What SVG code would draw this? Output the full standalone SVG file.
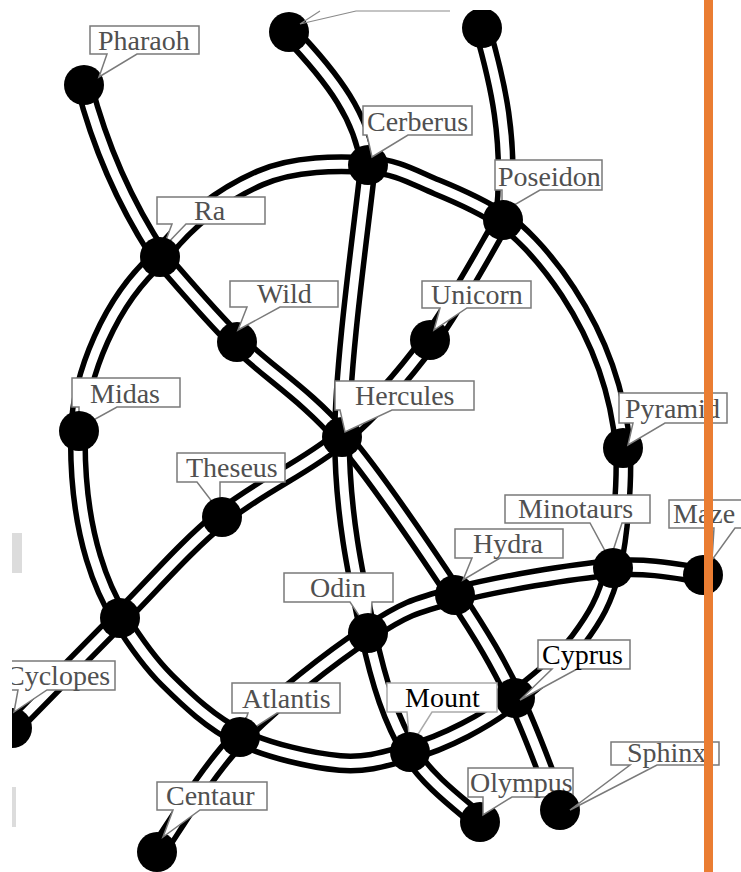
<svg xmlns="http://www.w3.org/2000/svg" xmlns:xlink="http://www.w3.org/1999/xlink" width="741" height="872" viewBox="0 0 741 872">
<style>
.tb{fill:none;stroke:#000;stroke-width:20;stroke-linecap:butt;stroke-linejoin:round}
.tw{fill:none;stroke:#fff;stroke-width:9;stroke-linecap:butt;stroke-linejoin:round}
.nd{fill:#000}
.lb{fill:#fff;stroke:#7a7a7a;stroke-width:1.5;stroke-linejoin:miter}
.lt{font-family:"Liberation Serif","Times New Roman",serif;font-size:28px;fill:#505050}
.dk{fill:#000}
</style>
<defs>
<clipPath id="clip"><rect x="12" y="10" width="729" height="862"/></clipPath>
<path id="e-ring" d="M368,165 C397.5,166.5 414.5,177.8 437,187 C459.5,196.2 480,205 503,220 C527,235 612,320 623,448 C624.7,482.7 620.5,536 613,568 C605.5,600 594.3,618.3 578,640 C561.7,661.7 533.8,683 515,698 C496.2,713 482.5,721 465,730 C447.5,739 430.8,746.5 410,752 C389.2,757.5 368.3,765.5 340,763 C311.7,760.5 268.8,750.8 240,737 C211.2,723.2 187,699.8 167,680 C147,660.2 132.8,638.5 120,618 C107,597 76,540 78,432 C80,375 110,300 160,257 C190,217 225.3,193.3 260,178 C294.7,162.7 338.5,163.5 368,165 Z"/>
<path id="e-pharaoh" d="M84,85 Q108,178 160,257"/>
<path id="e-ra-sphinx" d="M160,257 C172.8,271.2 206.7,312 237,342 C267.3,372 305.7,394.8 342,437 C378.3,479.2 426.2,551.5 455,595 C483.8,638.5 497.5,662.2 515,698 C532.5,733.8 552.5,791.3 560,810"/>
<path id="e-top1" d="M289,32 C335,80 362,118 368,165"/>
<path id="e-cerb-olympus" d="M368,165 C363.7,210.3 342,359 342,437 C342,515 356.7,580.5 368,633 C379.3,685.5 391.3,720.5 410,752 C428.7,783.5 468.3,810.3 480,822"/>
<path id="e-top2" d="M482,28 C497,80 512,140 503,220"/>
<path id="e-pos-cyc" d="M503,220 C490.8,240 456.8,303.8 430,340 C403.2,376.2 376.7,407.5 342,437 C307.3,466.5 259,486.8 222,517 C185,547.2 155,582.8 120,618 C85,653.2 30,709.7 5,735"/>
<path id="e-cent-maze" d="M157,852 C170.8,832.8 204.8,773.5 240,737 C275.2,700.5 332.2,656.7 368,633 C403.8,609.3 414.2,605.8 455,595 C495.8,584.2 571.7,571.3 613,568 C654.3,564.7 688,573.8 703,575"/>
</defs>
<rect x="0" y="0" width="741" height="872" fill="#fff"/>
<g clip-path="url(#clip)">
<g id="connectors">
<g id="edge-ring"><use xlink:href="#e-ring" class="tb"/><use xlink:href="#e-ring" class="tw"/></g>
<g id="edge-pharaoh-ra"><use xlink:href="#e-pharaoh" class="tb"/><use xlink:href="#e-pharaoh" class="tw"/></g>
<g id="edge-ra-sphinx"><use xlink:href="#e-ra-sphinx" class="tb"/><use xlink:href="#e-ra-sphinx" class="tw"/></g>
<g id="edge-top1-cerberus"><use xlink:href="#e-top1" class="tb"/><use xlink:href="#e-top1" class="tw"/></g>
<g id="edge-cerberus-olympus"><use xlink:href="#e-cerb-olympus" class="tb"/><use xlink:href="#e-cerb-olympus" class="tw"/></g>
<g id="edge-top2-poseidon"><use xlink:href="#e-top2" class="tb"/><use xlink:href="#e-top2" class="tw"/></g>
<g id="edge-poseidon-cyclopes"><use xlink:href="#e-pos-cyc" class="tb"/><use xlink:href="#e-pos-cyc" class="tw"/></g>
<g id="edge-centaur-maze"><use xlink:href="#e-cent-maze" class="tb"/><use xlink:href="#e-cent-maze" class="tw"/></g>
</g>
<g id="node-top1"><circle class="nd" cx="289" cy="32" r="20"/><path d="M320,11 L300,24 L356,11 H450" fill="none" stroke="#8a8a8a" stroke-width="1.2"/></g>
<g id="node-top2"><circle class="nd" cx="482" cy="28" r="20"/></g>
<g id="node-pharaoh"><circle class="nd" cx="84" cy="85" r="20"/><path class="lb" d="M90,26 H199 V54 H137 L99,77 L107,54 H90 Z"/><text class="lt" x="98" y="50">Pharaoh</text></g>
<g id="node-cerberus"><circle class="nd" cx="368" cy="165" r="20"/><path class="lb" d="M363,106 H472 V135 H408 L372,157 L367,135 H363 Z"/><text class="lt" x="367" y="131">Cerberus</text></g>
<g id="node-ra"><path class="lb" d="M157,197 H265 V224 H186 L163,248 L172,224 H157 Z"/><text class="lt" x="194" y="220">Ra</text><circle class="nd" cx="160" cy="257" r="20"/></g>
<g id="node-poseidon"><path class="lb" d="M495,160 H602 V190 H540 L502,212 L502,190 H495 Z"/><text class="lt" x="498" y="186">Poseidon</text><circle class="nd" cx="503" cy="220" r="20"/></g>
<g id="node-wild"><circle class="nd" cx="237" cy="342" r="20"/><path class="lb" d="M230,281 H338 V307 H280 L238,330 L247,307 H230 Z"/><text class="lt" x="257" y="303">Wild</text></g>
<g id="node-unicorn"><circle class="nd" cx="430" cy="340" r="20"/><path class="lb" d="M422,281 H531 V308 H467 L434,330 L440,308 H422 Z"/><text class="lt" x="431" y="304">Unicorn</text></g>
<g id="node-midas"><path class="lb" d="M72,378 H180 V407 H117 L79,428 L79,407 H72 Z"/><text class="lt" x="90" y="403">Midas</text><circle class="nd" cx="79" cy="431" r="20"/></g>
<g id="node-hercules"><circle class="nd" cx="342" cy="437" r="20"/><path class="lb" d="M335,381 H474 V410 H392 L345,432 L340,410 H335 Z"/><text class="lt" x="355" y="405">Hercules</text></g>
<g id="node-pyramid"><circle class="nd" cx="623" cy="448" r="20"/><path class="lb" d="M619,393 H727 V423 H665 L628,445 L633,423 H619 Z"/><text class="lt" x="625" y="418">Pyramid</text></g>
<g id="node-theseus"><path class="lb" d="M177,453 H285 V482 H220 L220,512 L197,482 H177 Z"/><text class="lt" x="186" y="477">Theseus</text><circle class="nd" cx="222" cy="517" r="20"/></g>
<g id="node-minotaurs"><path class="lb" d="M505,495 H650 V523 H622 L610,560 L590,523 H505 Z"/><text class="lt" x="518" y="518">Minotaurs</text><circle class="nd" cx="613" cy="568" r="20"/></g>
<g id="node-maze"><circle class="nd" cx="703" cy="575" r="20"/><path class="lb" d="M669,500 H752 V528 H735 L712,560 L714,528 H669 Z"/><text class="lt" x="673" y="523">Maze</text></g>
<g id="node-hydra"><circle class="nd" cx="455" cy="595" r="20"/><path class="lb" d="M455,529 H563 V558 H500 L463,580 L472,558 H455 Z"/><text class="lt" x="473" y="553">Hydra</text></g>
<g id="node-junction"><circle class="nd" cx="120" cy="618" r="20"/></g>
<g id="node-odin"><path class="lb" d="M284,573 H393 V602 H372 L370,632 L350,602 H284 Z"/><text class="lt" x="310" y="597">Odin</text><circle class="nd" cx="368" cy="633" r="20"/></g>
<g id="node-cyclopes"><circle class="nd" cx="12" cy="728" r="20"/><path class="lb" d="M0,661 H115 V690 H47 L14,712 L18,690 H0 Z"/><text class="lt" x="6" y="685">Cyclopes</text></g>
<g id="node-cyprus"><circle class="nd" cx="515" cy="698" r="20"/><path class="lb" d="M538,640 H630 V669 H577 L520,700 L552,669 H538 Z"/><text class="lt dk" x="542" y="664">Cyprus</text></g>
<g id="node-atlantis"><path class="lb" d="M232,683 H340 V713 H277 L240,737 L248,713 H232 Z"/><text class="lt" x="242" y="708">Atlantis</text><circle class="nd" cx="240" cy="737" r="20"/></g>
<g id="node-mount"><path class="lb" d="M387,683 H497 V712 H432 L410,747 L407,712 H387 Z" style="stroke:#aaa"/><text class="lt dk" x="405" y="707">Mount</text><circle class="nd" cx="410" cy="752" r="20"/></g>
<g id="node-olympus"><circle class="nd" cx="480" cy="822" r="20"/><path class="lb" d="M468,768 H573 V797 H512 L483,815 L483,797 H468 Z"/><text class="lt" x="470" y="792">Olympus</text></g>
<g id="node-sphinx"><circle class="nd" cx="560" cy="810" r="20"/><path class="lb" d="M611,742 H719 V765 H657 L570,810 L630,765 H611 Z"/><text class="lt" x="627" y="762">Sphinx</text></g>
<g id="node-centaur"><circle class="nd" cx="157" cy="852" r="20"/><path class="lb" d="M157,782 H267 V810 H200 L163,837 L173,810 H157 Z"/><text class="lt" x="166" y="805">Centaur</text></g>
</g>
<rect x="12" y="533" width="10" height="40" fill="#dcdcdc"/>
<rect x="12" y="787" width="4" height="40" fill="#dcdcdc"/>
<rect x="704" y="0" width="9" height="872" fill="#EA7D32"/>
</svg>
